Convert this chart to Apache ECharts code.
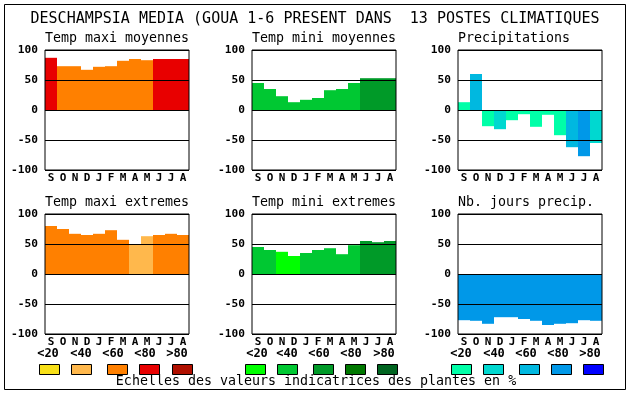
<!DOCTYPE html>
<html><head><meta charset="utf-8">
<script src="https://cdn.jsdelivr.net/npm/echarts@6/dist/echarts.min.js"></script>
<style>html,body{margin:0;padding:0;background:#fff}#c{width:630px;height:394px}</style>
</head><body><div id="c"></div>
<script>
var months = ['S','O','N','D','J','F','M','A','M','J','J','A'];
var yTicks = [-100, -50, 0, 50, 100];
var titleText = 'DESCHAMPSIA MEDIA (GOUA 1-6 PRESENT DANS  13 POSTES CLIMATIQUES';
var footText = 'Echelles des valeurs indicatrices des plantes en %';
var scaleLabels = ['<20','<40','<60','<80','>80'];

var maxiMoy    = [87,73,73,67,72,73,82,85,83,85,85,85];
var maxiMoyCls = [3,2,2,2,2,2,2,2,2,3,3,3];
var miniMoy    = [45,35,23,13,17,20,33,35,45,53,53,53];
var miniMoyCls = [1,1,1,1,1,1,1,1,1,2,2,2];
var precip     = [13,60,-27,-32,-17,-7,-28,-8,-42,-62,-77,-55];
var precipCls  = [0,2,0,1,0,0,0,0,0,2,3,1];
var maxiExt    = [80,75,67,65,67,73,57,50,63,65,67,65];
var maxiExtCls = [2,2,2,2,2,2,2,1,1,2,2,2];
var miniExt    = [45,40,37,30,35,40,43,33,48,55,53,55];
var miniExtCls = [1,1,0,0,1,1,1,1,1,2,2,2];
var jours      = [-77,-78,-83,-72,-72,-75,-78,-85,-83,-82,-77,-78];
var joursCls   = [3,3,3,3,3,3,3,3,3,3,3,3];

var orangePal = ['#f8e018','#ffb84c','#ff8000','#e80000','#b01000'];
var greenPal  = ['#00ff00','#00c832','#009a28','#007800','#006420'];
var bluePal   = ['#00ffa8','#00d8d0','#00b8e0','#0098e8','#0000ff'];

var MONO = '"DejaVu Sans Mono", "Liberation Mono", monospace';

var panels = [
  {name:'Temp maxi moyennes', vals:maxiMoy, cls:maxiMoyCls, pal:orangePal, left:45,  top:50},
  {name:'Temp mini moyennes', vals:miniMoy, cls:miniMoyCls, pal:greenPal,  left:252, top:50},
  {name:'Precipitations',     vals:precip,  cls:precipCls,  pal:bluePal,   left:458, top:50},
  {name:'Temp maxi extremes', vals:maxiExt, cls:maxiExtCls, pal:orangePal, left:45,  top:214},
  {name:'Temp mini extremes', vals:miniExt, cls:miniExtCls, pal:greenPal,  left:252, top:214},
  {name:'Nb. jours precip.',  vals:jours,   cls:joursCls,   pal:bluePal,   left:458, top:214}
];

var grids = [], xAxes = [], yAxes = [], series = [], titles = [], graphics = [];
titles.push({text:titleText, left:'center', top:12, padding:0, textStyle:{fontFamily:MONO, fontSize:15, fontWeight:'normal', color:'#000'}});
panels.forEach(function(p, i){
  grids.push({left:p.left, top:p.top, width:144, height:120, show:true, z:10,
    borderColor:'#000', borderWidth:1, backgroundColor:'transparent', containLabel:false});
  xAxes.push({type:'category', gridIndex:i, data:months, boundaryGap:true,
    axisLine:{show:false}, axisTick:{show:false}, splitLine:{show:false},
    axisLabel:{interval:0, margin:3, color:'#000', fontFamily:MONO, fontWeight:'bold', fontSize:11}});
  yAxes.push({type:'value', gridIndex:i, min:yTicks[0], max:yTicks[yTicks.length-1], interval:50, z:10,
    axisLine:{show:false}, axisTick:{show:false},
    splitLine:{show:true, lineStyle:{color:'#000', width:1}},
    axisLabel:{margin:7, color:'#000', fontFamily:MONO, fontWeight:'bold', fontSize:11.2}});
  series.push({type:'bar', xAxisIndex:i, yAxisIndex:i, barCategoryGap:'0%', barGap:'0%', animation:false, silent:true,
    data:p.vals.map(function(v,k){return {value:v, itemStyle:{color:p.pal[p.cls[k]]}};})});
  titles.push({text:p.name, left:p.left, top:p.top-18, padding:0, textStyle:{fontFamily:MONO, fontSize:13.3, fontWeight:'normal', color:'#000'}});
});

// legend scales
var swX = [[39,71,107,139,172],[245,277,313,345,377],[451,483,519,551,583]];
var lbX = [[48,81,113,145,177],[257,287,319,351,384],[461,494,526,558,590]];
var pals = [orangePal, greenPal, bluePal];
for (var g=0; g<3; g++){
  for (var k=0; k<5; k++){
    graphics.push({type:'rect', left:swX[g][k], top:364, shape:{width:20, height:10},
      style:{fill:pals[g][k], stroke:'#000', lineWidth:1}});
    graphics.push({type:'text', x:lbX[g][k], y:354, style:{text:scaleLabels[k], fill:'#000',
      font:'bold 12px '+MONO, textAlign:'center', textVerticalAlign:'middle'}});
  }
}
graphics.push({type:'text', x:316, y:382, style:{text:footText, fill:'#000',
  font:'13.3px '+MONO, textAlign:'center', textVerticalAlign:'middle'}});
graphics.push({type:'rect', x:4.5, y:4.5, shape:{width:621, height:385},
  style:{fill:'none', stroke:'#000', lineWidth:1}});

var chart = echarts.init(document.getElementById('c'), null, {renderer:'canvas'});
chart.setOption({
  animation:false, backgroundColor:'#fff',
  title:titles, grid:grids, xAxis:xAxes, yAxis:yAxes, series:series, graphic:graphics
});
</script></body></html>
